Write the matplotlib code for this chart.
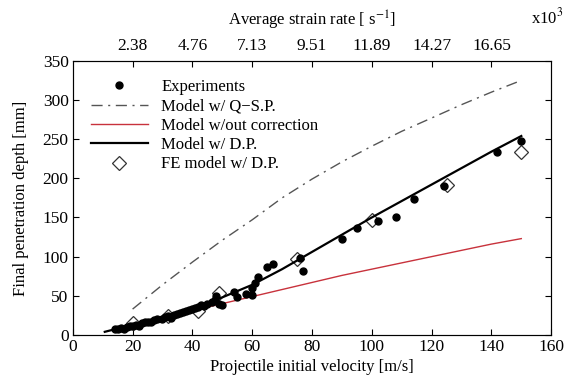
import matplotlib
matplotlib.use("Agg")
import matplotlib.pyplot as plt

plt.rcParams["font.family"] = ["Liberation Serif", "DejaVu Serif"]
plt.rcParams["mathtext.fontset"] = "stix"

# experiments (velocity m/s, depth mm)
exp_v = [14, 15, 16, 17, 18, 19, 20, 21, 22, 23, 24, 25, 26, 27, 28, 30, 31, 32,
         33, 34, 35, 36, 37, 38, 39, 40, 41, 42, 43, 44, 45, 46.5, 47.5, 48, 49,
         50, 54, 55, 58, 60, 60, 61, 62, 65, 67, 76, 77, 90, 95, 102, 108, 114,
         124, 142, 150]
exp_d = [7, 8, 9, 8, 10, 11, 12, 13, 12, 15, 16, 17, 17, 19, 20, 21, 23, 24,
         22, 26, 27, 28, 29, 30, 32, 33, 35, 36, 38, 37, 40, 42, 45, 50, 40,
         38, 55, 49, 52, 60, 51, 66, 74, 87, 90, 98, 82, 122, 137, 146, 151, 174,
         190, 233, 248]

# quasi-static model
qsp_v = [20, 30, 40, 50, 60, 70, 80, 90, 100, 110, 120, 130, 140, 150]
qsp_d = [33, 64, 93, 121, 147, 175, 199, 221, 241, 260, 277, 294, 310, 325]

# model without correction
noc_v = [20, 30, 40, 50, 60, 70, 80, 90, 100, 110, 120, 130, 140, 150]
noc_d = [12, 22, 31, 40, 49, 58, 67, 76, 84, 92, 100, 108, 116, 123]

# model with dynamic properties
dp_v = [10.7, 20, 30, 40, 50, 60, 70, 80, 90, 100, 110, 120, 130, 140, 150]
dp_d = [4, 13, 23, 34, 48, 64, 84, 106, 128, 150, 171, 192, 213, 234, 254]

# FE model
fe_v = [20, 32, 42, 49, 75, 100, 125, 150]
fe_d = [15, 24, 30, 53, 97, 147, 191, 234]

top_ticks = [20, 40, 60, 80, 100, 120, 140]
top_labels = ["2.38", "4.76", "7.13", "9.51", "11.89", "14.27", "16.65"]

fig = plt.figure(figsize=(5.87, 3.85), dpi=100)
ax = fig.add_axes([0.124, 0.130, 0.815, 0.712])

ax.plot(exp_v, exp_d, "o", color="black", ms=5, label="Experiments", zorder=4)
ax.plot(qsp_v, qsp_d, color="#555555", lw=1.0, dashes=[8, 4, 1.5, 4],
        label="Model w/ Q\u2212S.P.")
ax.plot(noc_v, noc_d, color="#c8323c", lw=1.0, label="Model w/out correction")
ax.plot(dp_v, dp_d, color="black", lw=1.6, label="Model w/ D.P.", zorder=5)
ax.plot(fe_v, fe_d, "D", mfc="white", mec="#333333", ms=7, mew=0.9,
        label="FE model w/ D.P.", zorder=3)

ax.set_xlim(0, 160)
ax.set_ylim(0, 350)
ax.set_xticks(range(0, 161, 20))
ax.set_yticks(range(0, 351, 50))
ax.tick_params(direction="in", labelsize=12.5, length=4, top=False, right=True, pad=3)
ax.set_xlabel("Projectile initial velocity [m/s]", fontsize=12, labelpad=3)
ax.set_ylabel("Final penetration depth [mm]", fontsize=12, labelpad=10)
for s in ax.spines.values():
    s.set_color("#444444")

ax2 = ax.twiny()
ax2.set_xlim(ax.get_xlim())
ax2.set_xticks(top_ticks)
ax2.set_xticklabels(top_labels)
ax2.tick_params(direction="in", labelsize=12.5, length=4, pad=5)
ax2.set_xlabel("Average strain rate [ s$^{-1}$]", fontsize=12, labelpad=9)
fig.text(0.905, 0.955, "x10$^3$", fontsize=12, ha="left", va="center")

ax.legend(loc="upper left", frameon=False, fontsize=12, handlelength=3.4,
          handletextpad=0.8, labelspacing=0.2, borderaxespad=0.5,
          borderpad=0.6)

fig.savefig("out.png", dpi=100)
